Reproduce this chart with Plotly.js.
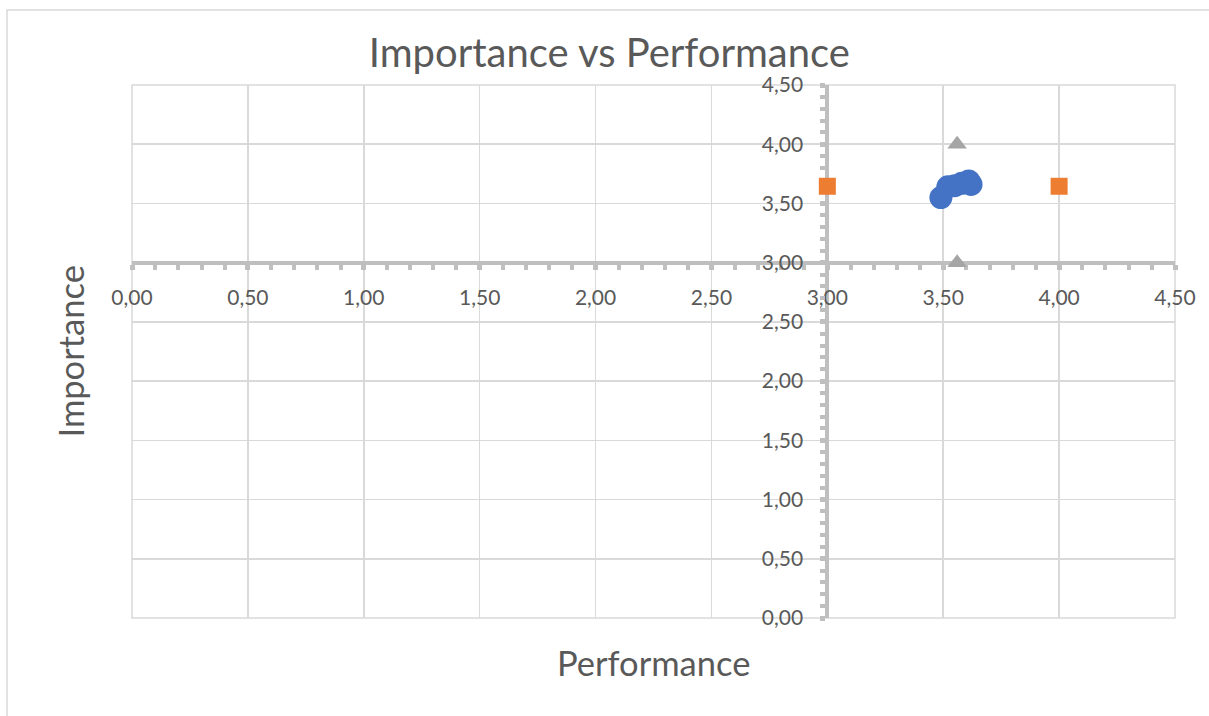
<!DOCTYPE html>
<html>
<head>
<meta charset="utf-8">
<script src="https://cdn.plot.ly/plotly-3.0.1.min.js"></script>
<style>
  html, body { margin: 0; padding: 0; background: #fff; }
  #chart { width: 1209px; height: 716px; }
</style>
</head>
<body>
<div id="chart"></div>
<script>
// Data
const itemPerformance = [3.49, 3.52, 3.55, 3.58, 3.61, 3.62];
const itemImportance  = [3.55, 3.64, 3.65, 3.67, 3.69, 3.66];

const perfLineX = [3.00, 4.00];        // orange squares (mean importance line ends)
const perfLineY = [3.645, 3.645];

const impLineX = [3.56, 3.56];         // gray triangles (mean performance line ends)
const impLineY = [4.00, 3.00];

const axisCrossX = 3.00;
const axisCrossY = 3.00;
const axisMax = 4.5;

const chartTitle = 'Importance vs Performance';
const xTitle = 'Performance';
const yTitle = 'Importance';

const FONT = 'Lato, "Open Sans", sans-serif';
const TXT = '#595959';

const traces = [
  {
    x: itemPerformance, y: itemImportance, type: 'scatter', mode: 'markers',
    marker: { symbol: 'circle', size: 23, color: '#4472C4' }, name: 'Items'
  },
  {
    x: perfLineX, y: perfLineY, type: 'scatter', mode: 'markers',
    marker: { symbol: 'square', size: 17, color: '#ED7D31' }, name: 'Mean importance'
  },
  {
    x: impLineX, y: impLineY, type: 'scatter', mode: 'markers',
    marker: { symbol: 'triangle-up', size: 17, color: '#A5A5A5' }, name: 'Mean performance'
  }
];

const axisCommon = {
  range: [0, axisMax], tickmode: 'linear', dtick: 0.5, tick0: 0, tickformat: '.2f',
  showgrid: true, gridcolor: '#d9d9d9', gridwidth: 1.5,
  zeroline: false, showline: true, linecolor: '#bfbfbf', linewidth: 4,
  ticks: 'outside', ticklen: 5, tickwidth: 5, tickcolor: '#bfbfbf',
  minor: { tickmode: 'linear', tick0: 0, dtick: 0.1, ticks: 'outside', ticklen: 5, tickwidth: 4, tickcolor: '#bfbfbf', showgrid: false },
  tickfont: { family: FONT, size: 21, color: TXT },
  anchor: 'free', layer: 'below traces', fixedrange: true
};

const layout = {
  width: 1209, height: 716,
  margin: { l: 132, r: 34, t: 85, b: 98 },
  paper_bgcolor: '#ffffff', plot_bgcolor: '#ffffff',
  separators: ', ',
  showlegend: false,
  font: { family: FONT, color: TXT },
  title: {
    text: chartTitle, font: { family: FONT, size: 40, color: TXT },
    xref: 'container', x: 0.504, xanchor: 'center',
    yref: 'container', y: 1 - 53 / 716, yanchor: 'middle'
  },
  xaxis: Object.assign({}, axisCommon, { position: axisCrossY / axisMax, side: 'bottom', ticklabelstandoff: 10 }),
  yaxis: Object.assign({}, axisCommon, { position: axisCrossX / axisMax, side: 'left', ticklabelstandoff: 13 }),
  annotations: [
    { text: xTitle, xref: 'paper', yref: 'paper', x: 0.5, y: -(662 - 618) / 533,
      xanchor: 'center', yanchor: 'middle', showarrow: false,
      font: { family: FONT, size: 34.5, color: TXT } },
    { text: yTitle, xref: 'paper', yref: 'paper', x: (70 - 132) / 1043, y: 0.5,
      xanchor: 'center', yanchor: 'middle', showarrow: false, textangle: -90,
      font: { family: FONT, size: 34.5, color: TXT } }
  ],
  shapes: [
    { type: 'rect', xref: 'paper', yref: 'paper', x0: 0, x1: 1, y0: 0, y1: 1,
      line: { color: '#d9d9d9', width: 1.5 }, layer: 'below' },
    { type: 'rect', xref: 'paper', yref: 'paper',
      x0: (7 - 132) / 1043, x1: (1220 - 132) / 1043,
      y0: (618 - 730) / 533, y1: (618 - 10) / 533,
      line: { color: '#d9d9d9', width: 1.5 }, layer: 'below' }
  ]
};

Plotly.newPlot('chart', traces, layout, { displayModeBar: false, staticPlot: true });
</script>
</body>
</html>
